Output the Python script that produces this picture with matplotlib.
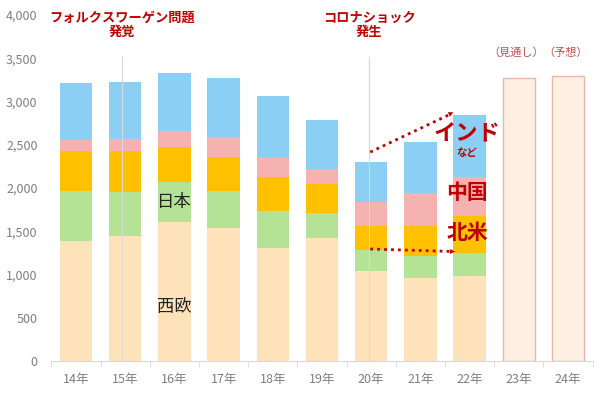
import matplotlib
matplotlib.use("Agg")  # no display

import numpy as np
import matplotlib.pyplot as plt
from matplotlib.ticker import FuncFormatter

plt.rcParams['font.family'] = ['Noto Sans CJK JP', 'DejaVu Sans']

# Data
years = ["14年", "15年", "16年", "17年", "18年", "19年", "20年", "21年", "22年", "23年", "24年"]
west_europe = [1387, 1441, 1610, 1534, 1310, 1418, 1044, 957, 983]
japan = [578, 509, 463, 431, 424, 289, 239, 257, 262]
north_america = [463, 478, 404, 390, 393, 336, 278, 350, 435]
china = [127, 138, 185, 230, 216, 173, 274, 382, 444]
india_etc = [662, 663, 671, 683, 724, 570, 469, 589, 720]
forecast_total = [3268, 3291]
forecast_labels = ["（見通し）", "（予想）"]

# Colours
C_WEST = "#FDE2BA"
C_JAPAN = "#B4E395"
C_NA = "#FFC000"
C_CHINA = "#F6B1B1"
C_INDIA = "#8BCFF4"
C_FC_FILL = "#FDF0E2"
C_FC_EDGE = "#E8B8AC"
RED = "#C00000"
GRAY = "#7F7F7F"

fig = plt.figure(figsize=(6, 3.97), dpi=100)
ax = fig.add_axes([0.0857, 0.0907, 0.902, 0.8713])

n_hist = len(west_europe)
x_hist = np.arange(n_hist)
width = 0.66

bottom = np.zeros(n_hist)
for vals, col in [(west_europe, C_WEST), (japan, C_JAPAN), (north_america, C_NA),
                  (china, C_CHINA), (india_etc, C_INDIA)]:
    ax.bar(x_hist, vals, width, bottom=bottom, color=col, edgecolor="none", zorder=2)
    bottom += np.array(vals)

x_fc = np.arange(n_hist, n_hist + len(forecast_total))
ax.bar(x_fc, forecast_total, width, color=C_FC_FILL, edgecolor=C_FC_EDGE, linewidth=1.0, zorder=2)
for xi, lab in zip(x_fc, forecast_labels):
    ax.text(xi - 0.05, 3510, lab, ha="center", va="bottom", color="#C0504D", fontsize=8)

# event markers
for xv, txt in [(0.94, "フォルクスワーゲン問題\n発覚"), (5.96, "コロナショック\n発生")]:
    ax.plot([xv, xv], [0, 3510], color="#D9D9D9", linewidth=0.8, zorder=3)
    ax.text(xv, 3890, txt, ha="center", va="center", color=RED, fontsize=9.5,
            fontweight="bold", linespacing=1.0)

# region labels
ax.text(2, 1840, "日本", ha="center", va="center", fontsize=12.5, color="#222222", zorder=4)
ax.text(2, 620, "西欧", ha="center", va="center", fontsize=12.5, color="#222222", zorder=4)
ax.text(7.95, 2640, "インド", ha="center", va="center", fontsize=16, fontweight="bold", color=RED, zorder=4)
ax.text(7.95, 2400, "など", ha="center", va="center", fontsize=7.5, fontweight="bold", color=RED, zorder=4)
ax.text(7.95, 1945, "中国", ha="center", va="center", fontsize=15, fontweight="bold", color=RED, zorder=4)
ax.text(7.95, 1490, "北米", ha="center", va="center", fontsize=15, fontweight="bold", color=RED, zorder=4)

# dotted arrows
for (x0, y0), (x1, y1) in [((5.98, 2416), (7.72, 2890)), ((5.98, 1295), (7.76, 1264))]:
    ax.plot([x0, x1 - 0.1], [y0, y1 - (y1 - y0) * 0.07],
            color=RED, linestyle=(0, (1, 1.5)), linewidth=2, zorder=5)
    ax.annotate("", xy=(x1, y1), xytext=(x1 - 0.15, y1 - (y1 - y0) * 0.086),
                arrowprops=dict(arrowstyle="-|>", color=RED, lw=0, mutation_scale=9), zorder=5)

ax.set_xlim(-0.5, 10.5)
ax.set_ylim(0, 4000)
ax.set_yticks(np.arange(0, 4001, 500))
ax.yaxis.set_major_formatter(FuncFormatter(lambda v, p: f"{int(v):,}"))
ax.set_xticks(np.arange(len(years)))
ax.set_xticklabels(years)
ax.set_xticks(np.arange(-0.5, 10.6, 1), minor=True)
ax.tick_params(axis="y", length=0, colors=GRAY, labelsize=9, pad=10)
ax.tick_params(axis="x", which="major", length=0, colors=GRAY, labelsize=9, pad=9)
ax.tick_params(axis="x", which="minor", length=4, color="#D9D9D9")
for s in ["top", "right", "left"]:
    ax.spines[s].set_visible(False)
ax.spines["bottom"].set_color("#D9D9D9")

fig.savefig("out.png", dpi=100)
